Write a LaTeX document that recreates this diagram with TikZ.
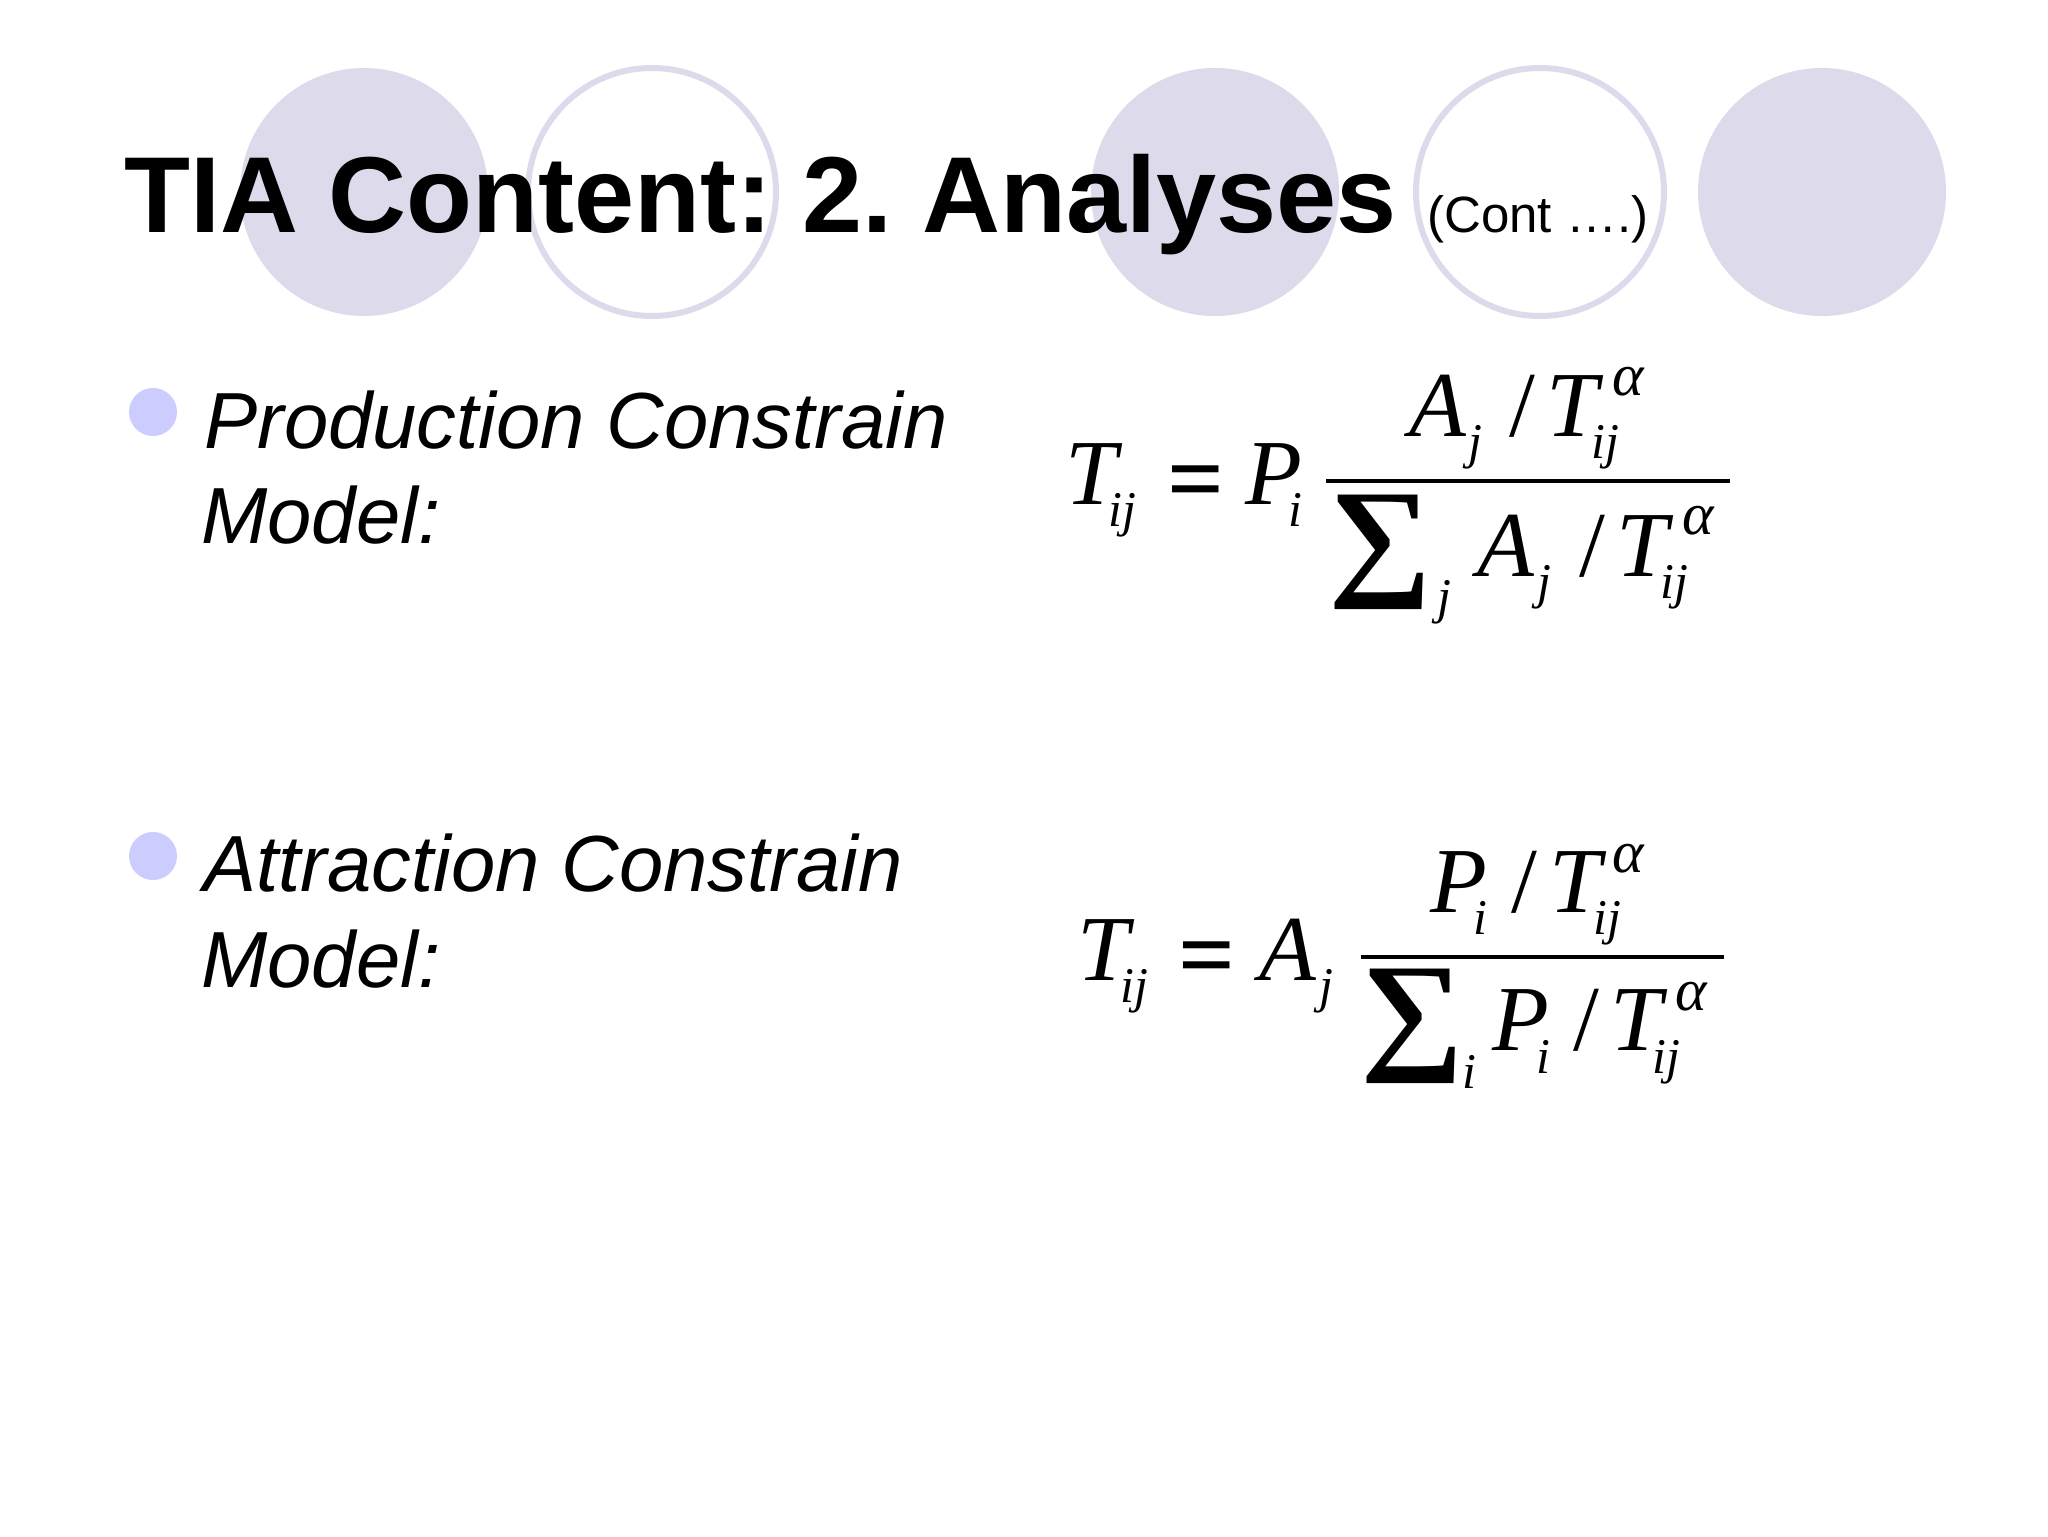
\documentclass[tikz,border=0pt]{standalone}
\usepackage{fontspec}
\setmainfont{Liberation Sans}
\newfontfamily\timesf{Liberation Serif}
\definecolor{disc}{HTML}{DDDBEB}
\definecolor{bul}{HTML}{CCCCFF}
\tikzset{
  px/.style={x=0.5pt,y=-0.5pt},
  glyph/.style={inner sep=0pt,outer sep=0pt,anchor=base},
  big/.style={glyph,font=\timesf\itshape\fontsize{46.5}{50}\selectfont},
  small/.style={glyph,font=\timesf\itshape\fontsize{25}{28}\selectfont},
  greek/.style={glyph,font=\timesf\itshape\fontsize{30}{32}\selectfont},
  upr/.style={glyph,font=\timesf\bfseries\fontsize{50}{56}\selectfont},
  slashg/.style={glyph,font=\timesf\fontsize{46.5}{50}\selectfont},
  sumg/.style={glyph,xscale=1.1,font=\timesf\bfseries\fontsize{66}{72}\selectfont},
  fracrule/.style={line width=2.4pt,black},
  solid disc/.style={circle,fill=disc,inner sep=0pt,minimum size=124pt},
  ring disc/.style={circle,draw=disc,line width=3pt,fill=white,inner sep=0pt,minimum size=124pt},
  bulletdot/.style={circle,fill=bul,inner sep=0pt,minimum size=24pt},
  titletext/.style={inner sep=0pt,anchor=base west,font=\bfseries\fontsize{54}{60}\selectfont},
  conttext/.style={inner sep=0pt,anchor=base west,font=\fontsize{25.5}{30}\selectfont},
  bodytext/.style={inner sep=0pt,anchor=base west,font=\itshape\fontsize{39.8}{44}\selectfont},
}
\begin{document}
\begin{tikzpicture}[px]
\useasboundingbox (0,0) rectangle (2048,1536);
\fill[white] (0,0) rectangle (2048,1536);
% discs
\node[solid disc] (c1) at (364,192) {};
\node[ring disc] (c2) at (652,192) {};
\node[solid disc] (c3) at (1215,192) {};
\node[ring disc] (c4) at (1540,192) {};
\node[solid disc] (c5) at (1822,192) {};
% title
\node[titletext] (title) at (124,232) {\frenchspacing TIA Content: 2. Analyses};
\node[conttext] (cont) at (1427,232) {(Cont ….)};
% bullets
\node[bulletdot] (b1) at (153,412) {};
\node[bulletdot] (b2) at (153,856) {};
\node[bodytext] (t1a) at (204,448) {Production Constrain};
\node[bodytext] (t1b) at (201,543) {Model:};
\node[bodytext] (t2a) at (203,891) {Attraction Constrain};
\node[bodytext] (t2b) at (201,987) {Model:};
% formula 1
\node[big] (aT) at (1091,504) {T};
\node[small] (aij) at (1122,526) {ij};
\node[upr] (aeq) at (1196,512) {=};
\node[big] (aP) at (1274,504) {P};
\node[small] (ai) at (1295,526) {i};
\coordinate (ar1) at (1326,481);
\coordinate (ar2) at (1730,481);
\draw[fracrule] (ar1) -- (ar2);
\node[big] (aA) at (1438,436) {A};
\node[small] (aj) at (1475,458) {j};
\node[slashg] (as) at (1522,436) {/};
\node[big] (aT2) at (1572,436) {T};
\node[greek] (aal) at (1628,395) {α};
\node[small] (aij2) at (1605,458) {ij};
\node[sumg] (asum) at (1380,581) {∑};
\node[small] (aj3) at (1444,613) {j};
\node[big] (aA3) at (1506,576) {A};
\node[small] (aj4) at (1544,598) {j};
\node[slashg] (as3) at (1592,576) {/};
\node[big] (aT3) at (1642,576) {T};
\node[greek] (aal3) at (1698,534) {α};
\node[small] (aij3) at (1674,598) {ij};
% formula 2
\node[big] (bT) at (1103,980) {T};
\node[small] (bij) at (1134,1002) {ij};
\node[upr] (beq) at (1207,988) {=};
\node[big] (bA) at (1288,980) {A};
\node[small] (bj) at (1326,1002) {j};
\coordinate (br1) at (1361,957);
\coordinate (br2) at (1724,957);
\draw[fracrule] (br1) -- (br2);
\node[big] (bP) at (1459,912) {P};
\node[small] (bi) at (1480,934) {i};
\node[slashg] (bs) at (1524,912) {/};
\node[big] (bT2) at (1575,912) {T};
\node[greek] (bal) at (1628,872) {α};
\node[small] (bij2) at (1607,934) {ij};
\node[sumg] (bsum) at (1412,1055) {∑};
\node[small] (bi3) at (1469,1088) {i};
\node[big] (bP3) at (1521,1050) {P};
\node[small] (bi4) at (1543,1073) {i};
\node[slashg] (bs3) at (1586,1050) {/};
\node[big] (bT3) at (1636,1050) {T};
\node[greek] (bal3) at (1691,1010) {α};
\node[small] (bij3) at (1666,1073) {ij};
\end{tikzpicture}
\end{document}
